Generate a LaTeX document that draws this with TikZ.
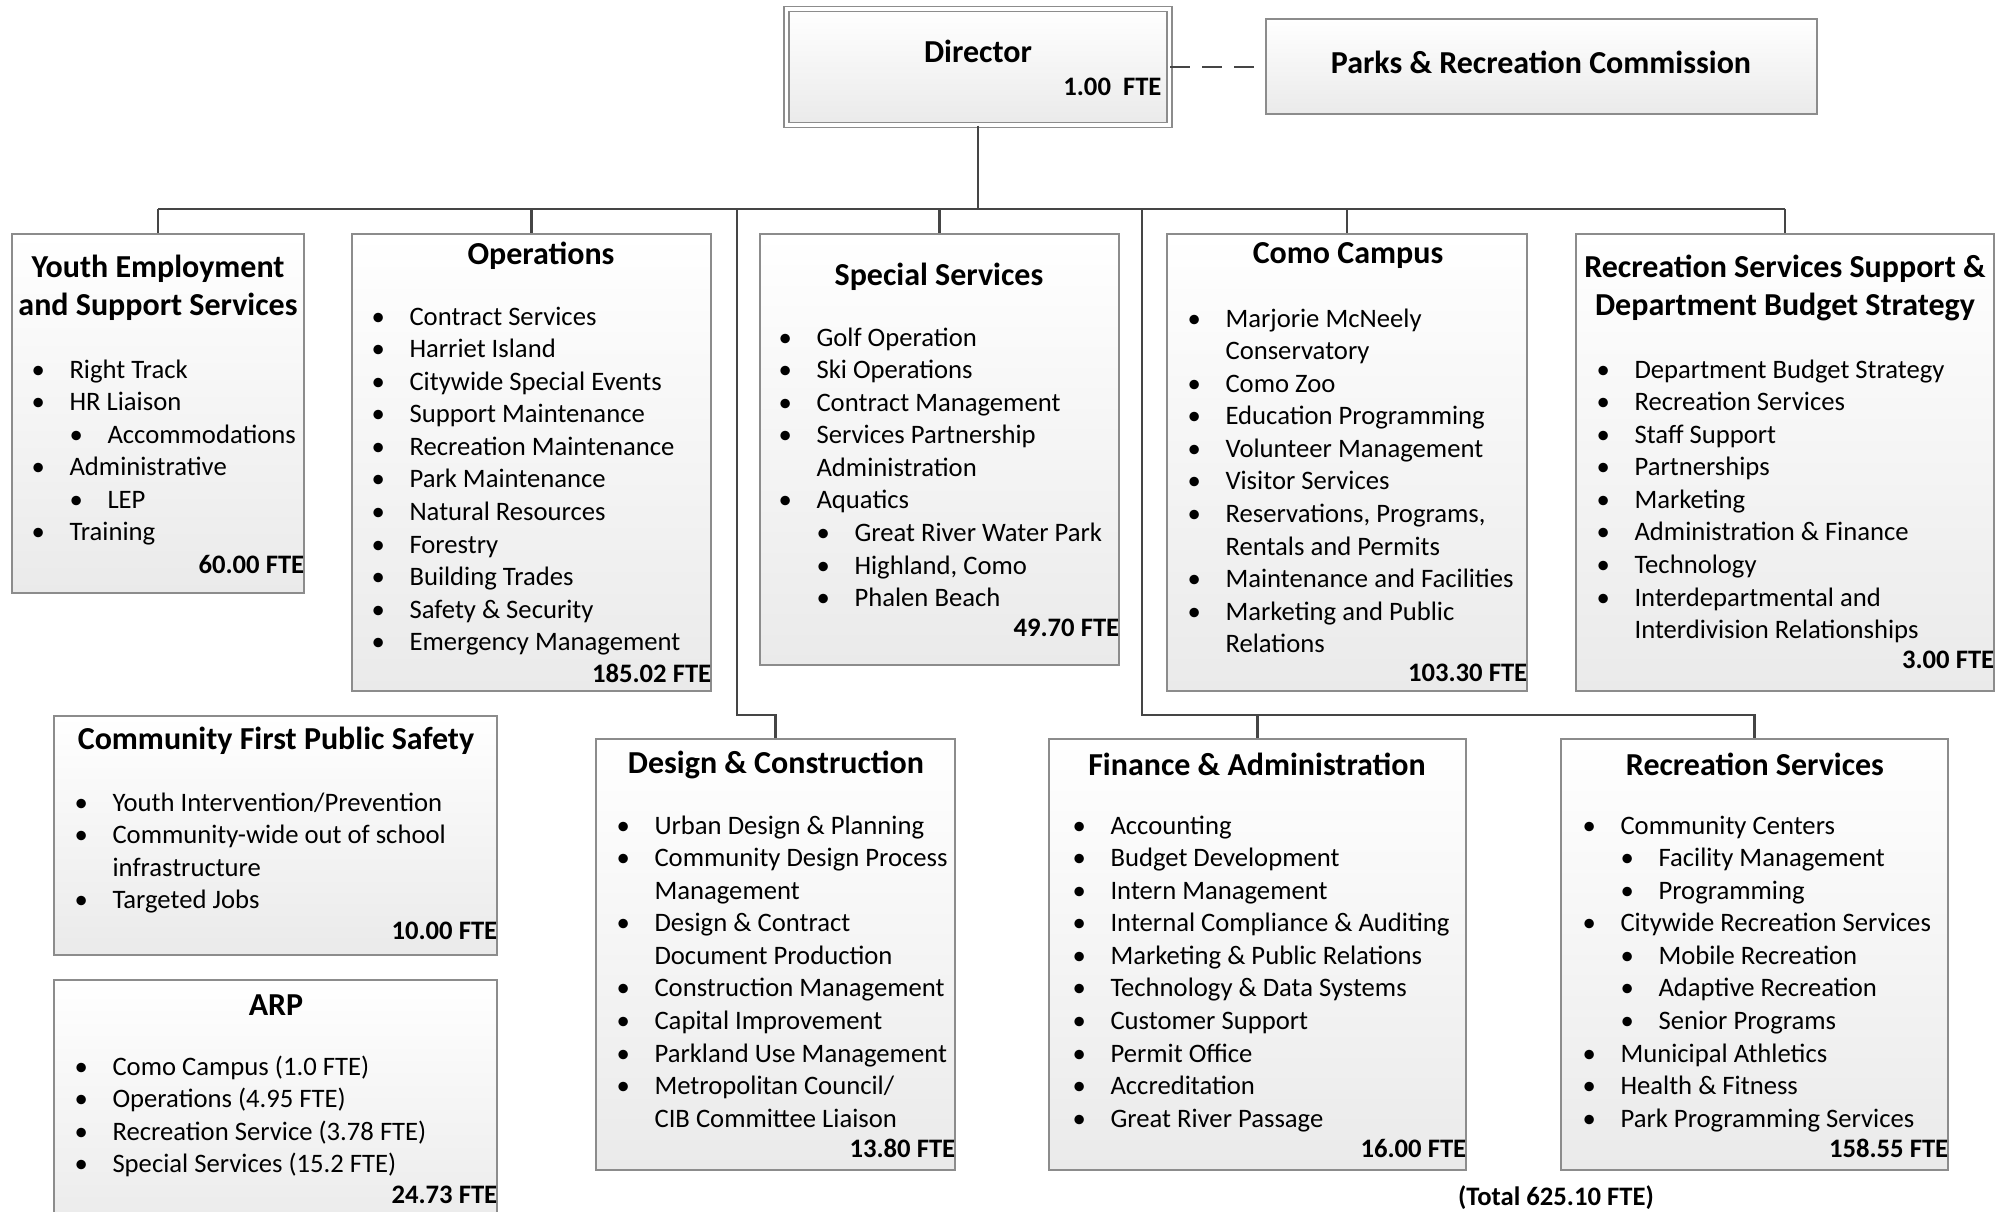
\documentclass[tikz,border=0pt]{standalone}
\usepackage{fontspec}
\setmainfont{Carlito}
\usepackage{tikz}
\usetikzlibrary{calc}

\definecolor{boxline}{HTML}{8C8C8C}
\definecolor{wire}{HTML}{454545}
\definecolor{boxfoot}{HTML}{EAEAEA}

\newdimen\px \px=0.375pt
\newcommand{\bl}[1]{\strut\makebox[38\px][l]{\textbullet}#1}
\newcommand{\bll}[1]{\strut\hspace*{38\px}\makebox[38\px][l]{\textbullet}#1}
\newcommand{\cnt}[1]{\strut\hspace*{38\px}#1}

\begin{document}
\begin{tikzpicture}[x=0.375pt, y=-0.375pt,
           dept/.style 2 args={draw=boxline, line width=0.55pt, top color=white, bottom color=boxfoot,
              minimum width=#1*0.375pt, minimum height=#2*0.375pt, inner sep=0pt},
           head/.style={align=center, inner sep=0pt, font=\bfseries\fontsize{12}{14.4}\selectfont},
           items/.style={anchor=north west, align=left, inner sep=0pt, font=\fontsize{10}{12.2}\selectfont},
           fte/.style={anchor=east, inner sep=0pt, font=\bfseries\fontsize{10}{12}\selectfont},
           link/.style={draw=wire, line width=1.1pt},
        ]
        \useasboundingbox (0,0) rectangle (2009,1212);
        \clip (0,0) rectangle (2009,1212);

        \node at (978,67) (director) [dept={383}{116}, double=white, double distance=1.3pt] {};
        \node at (978,51) (directorHead) [head] {Director};
        \node at (1162,87) (directorFte) [fte] {1.00\hspace{0.45em}FTE};
        \node at (1541.5,66.5) (commission) [dept={551}{95}] {};
        \node at (1541,62) (commissionHead) [head] {Parks \& Recreation Commission};

        \node at (158,413.5) (youth) [dept={292}{359}] {};
        \node at (158,288) (youthHead) [head] {Youth Employment\\and Support Services};
        \node at (31,355) (youthList) [items] {\bl{Right Track}\\\bl{HR Liaison}\\\bll{Accommodations}\\\bl{Administrative}\\\bll{LEP}\\\bl{Training}};
        \node at (youth.east |- 0,564) (youthFte) [fte] {60.00 FTE};

        \node at (531.5,462.5) (ops) [dept={359}{457}] {};
        \node at (541,256) (opsHead) [head] {Operations};
        \node at (371,302) (opsList) [items] {\bl{Contract Services}\\\bl{Harriet Island}\\\bl{Citywide Special Events}\\\bl{Support Maintenance}\\\bl{Recreation Maintenance}\\\bl{Park Maintenance}\\\bl{Natural Resources}\\\bl{Forestry}\\\bl{Building Trades}\\\bl{Safety \& Security}\\\bl{Emergency Management}};
        \node at (ops.east |- 0,673) (opsFte) [fte] {185.02 FTE};

        \node at (939.5,449.5) (special) [dept={359}{431}] {};
        \node at (939,277) (specialHead) [head] {Special Services};
        \node at (778,323) (specialList) [items] {\bl{Golf Operation}\\\bl{Ski Operations}\\\bl{Contract Management}\\\bl{Services Partnership}\\\cnt{Administration}\\\bl{Aquatics}\\\bll{Great River Water Park}\\\bll{Highland, Como}\\\bll{Phalen Beach}};
        \node at (special.east |- 0,628) (specialFte) [fte] {49.70 FTE};

        \node at (1347,462.5) (como) [dept={360}{457}] {};
        \node at (1348,256) (comoHead) [head] {Como Campus};
        \node at (1187,304) (comoList) [items] {\bl{Marjorie McNeely}\\\cnt{Conservatory}\\\bl{Como Zoo}\\\bl{Education Programming}\\\bl{Volunteer Management}\\\bl{Visitor Services}\\\bl{Reservations, Programs,}\\\cnt{Rentals and Permits}\\\bl{Maintenance and Facilities}\\\bl{Marketing and Public}\\\cnt{Relations}};
        \node at (como.east |- 0,673) (comoFte) [fte] {103.30 FTE};

        \node at (1785,462.5) (rss) [dept={418}{457}] {};
        \node at (1785,288) (rssHead) [head] {Recreation Services Support \&\\Department Budget Strategy};
        \node at (1596,355) (rssList) [items] {\bl{Department Budget Strategy}\\\bl{Recreation Services}\\\bl{Staff Support}\\\bl{Partnerships}\\\bl{Marketing}\\\bl{Administration \& Finance}\\\bl{Technology}\\\bl{Interdepartmental and}\\\cnt{Interdivision Relationships}};
        \node at (rss.east |- 0,660) (rssFte) [fte] {3.00 FTE};

        \node at (275.5,835.5) (safety) [dept={443}{239}] {};
        \node at (276,741) (safetyHead) [head] {Community First Public Safety};
        \node at (74,788) (safetyList) [items] {\bl{Youth Intervention/Prevention}\\\bl{Community-wide out of school}\\\cnt{infrastructure}\\\bl{Targeted Jobs}};
        \node at (safety.east |- 0,931) (safetyFte) [fte] {10.00 FTE};

        \node at (275.5,1110) (arp) [dept={443}{260}] {};
        \node at (276,1005) (arpHead) [head] {ARP};
        \node at (74,1052) (arpList) [items] {\bl{Como Campus (1.0 FTE)}\\\bl{Operations (4.95 FTE)}\\\bl{Recreation Service (3.78 FTE)}\\\bl{Special Services (15.2 FTE)}};
        \node at (arp.east |- 0,1195) (arpFte) [fte] {24.73 FTE};

        \node at (775.5,954.5) (design) [dept={359}{431}] {};
        \node at (776,765) (designHead) [head] {Design \& Construction};
        \node at (616,811) (designList) [items] {\bl{Urban Design \& Planning}\\\bl{Community Design Process}\\\cnt{Management}\\\bl{Design \& Contract}\\\cnt{Document Production}\\\bl{Construction Management}\\\bl{Capital Improvement}\\\bl{Parkland Use Management}\\\bl{Metropolitan Council/}\\\cnt{CIB Committee Liaison}};
        \node at (design.east |- 0,1148) (designFte) [fte] {13.80 FTE};

        \node at (1257.5,954.5) (finance) [dept={417}{431}] {};
        \node at (1257,764) (financeHead) [head] {Finance \& Administration};
        \node at (1072,811) (financeList) [items] {\bl{Accounting}\\\bl{Budget Development}\\\bl{Intern Management}\\\bl{Internal Compliance \& Auditing}\\\bl{Marketing \& Public Relations}\\\bl{Technology \& Data Systems}\\\bl{Customer Support}\\\bl{Permit Office}\\\bl{Accreditation}\\\bl{Great River Passage}};
        \node at (finance.east |- 0,1148) (financeFte) [fte] {16.00 FTE};

        \node at (1754.5,954.5) (recreation) [dept={387}{431}] {};
        \node at (1755,764) (recreationHead) [head] {Recreation Services};
        \node at (1582,811) (recreationList) [items] {\bl{Community Centers}\\\bll{Facility Management}\\\bll{Programming}\\\bl{Citywide Recreation Services}\\\bll{Mobile Recreation}\\\bll{Adaptive Recreation}\\\bll{Senior Programs}\\\bl{Municipal Athletics}\\\bl{Health \& Fitness}\\\bl{Park Programming Services}};
        \node at (recreation.east |- 0,1148) (recreationFte) [fte] {158.55 FTE};

        \node at (1556,1198) (total) [fte, anchor=center] {(Total 625.10 FTE)};

        \coordinate (bus) at (978,209);
        \coordinate (designBend) at (737,715);
        \coordinate (lowBend) at (1142,715);
        \draw[link, dash pattern=on 7.5pt off 4.5pt] (director.east) -- (director.east -| commission.west);
        \draw[link] (director.south) -- (bus);
        \draw[link] (bus -| youth.north) -- (bus -| rss.north);
        \draw[link] (bus -| youth.north) -- (youth.north);
        \draw[link] (bus -| ops.north) -- (ops.north);
        \draw[link] (bus -| special.north) -- (special.north);
        \draw[link] (bus -| como.north) -- (como.north);
        \draw[link] (bus -| rss.north) -- (rss.north);
        \draw[link] (bus -| designBend) -- (designBend) -| (design.north);
        \draw[link] (bus -| lowBend) -- (lowBend) -| (recreation.north);
        \draw[link] (lowBend -| finance.north) -- (finance.north);
     \end{tikzpicture}
\end{document}
